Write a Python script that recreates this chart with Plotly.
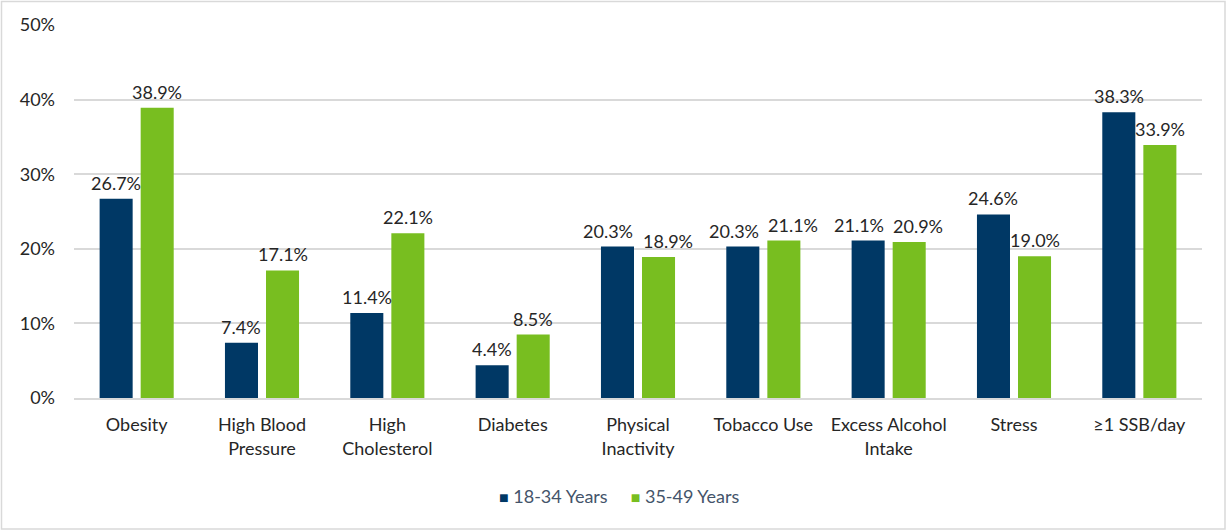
import plotly.graph_objects as go

categories = ["Obesity", "High Blood<br>Pressure", "High<br>Cholesterol", "Diabetes",
              "Physical<br>Inactivity", "Tobacco Use", "Excess Alcohol<br>Intake",
              "Stress", "≥1 SSB/day"]
age_18_34 = [26.7, 7.4, 11.4, 4.4, 20.3, 20.3, 21.1, 24.6, 38.3]
age_35_49 = [38.9, 17.1, 22.1, 8.5, 18.9, 21.1, 20.9, 19.0, 33.9]
series_names = ["18-34 Years", "35-49 Years"]
series_colors = ["#003865", "#78BE20"]
y_ticks = [0, 10, 20, 30, 40, 50]
y_tick_labels = ["0%", "10%", "20%", "30%", "40%", "50%"]

W, H = 1227, 531
ML, MR, MT, MB = 74, 25, 25, 133
PW, PH = W - ML - MR, H - MT - MB
BARGAP, GROUPGAP = 0.345, 0.195

font = "Lato, 'Noto Sans', sans-serif"

fig = go.Figure()
for name, vals, color in zip(series_names, [age_18_34, age_35_49], series_colors):
    fig.add_trace(go.Bar(
        name=name, x=categories, y=vals, marker_color=color,
        marker_line_width=0, showlegend=False,
    ))

# value labels above each bar; labels of near-equal pairs are pushed apart
cat_px = PW / len(categories)
slot_px = cat_px * (1 - BARGAP) / 2
for i, cat in enumerate(categories):
    pair = (age_18_34[i], age_35_49[i])
    spread = 9 if abs(pair[0] - pair[1]) < 3 else 0
    for j, v in enumerate(pair):
        side = -1 if j == 0 else 1
        fig.add_annotation(
            x=cat, y=v, xref="x", yref="y", showarrow=False,
            text=f"{v:.1f}%", xanchor="center", yanchor="bottom",
            xshift=side * (slot_px / 2 + spread), yshift=3,
            font=dict(family=font, size=18, color="#262626"))

# outer frame of the chart area
fig.add_shape(type="rect", xref="paper", yref="paper",
              x0=-(ML - 1.5) / PW, x1=1 + (MR - 2) / PW,
              y0=-(MB - 2) / PH, y1=1 + (MT - 1.5) / PH,
              line=dict(color="#D9D9D9", width=1.5), fillcolor="rgba(0,0,0,0)",
              layer="below")

# legend drawn as a single centred line of coloured squares and names
legend_text = "&nbsp;&nbsp;&nbsp;&nbsp;&nbsp;".join(
    f"<span style='color:{c};font-size:16px'>■</span>&nbsp;{n}"
    for n, c in zip(series_names, series_colors))
fig.add_annotation(xref="paper", yref="paper", x=(619.5 - ML) / PW,
                   y=-(496 - 398) / PH,
                   xanchor="center", yanchor="middle", showarrow=False,
                   text=legend_text,
                   font=dict(family=font, size=18, color="#44546A"))

fig.update_layout(
    width=W, height=H, autosize=False,
    margin=dict(l=ML, r=MR, t=MT, b=MB),
    paper_bgcolor="white", plot_bgcolor="white",
    barmode="group", bargap=BARGAP, bargroupgap=GROUPGAP,
    font=dict(family=font, size=18, color="#262626"),
    showlegend=False,
    xaxis=dict(showgrid=False, showline=True, linecolor="#D9D9D9", linewidth=1.5,
               ticks="", tickfont=dict(family=font, size=18, color="#262626"),
               ticklabelstandoff=10),
    yaxis=dict(range=[0, 50], tickvals=y_ticks, ticktext=y_tick_labels,
               showgrid=True, gridcolor="#D9D9D9", gridwidth=1.5, zeroline=False,
               showline=False, ticks="",
               tickfont=dict(family=font, size=18, color="#262626"),
               ticklabelstandoff=18),
)

fig.write_html("out.html")
